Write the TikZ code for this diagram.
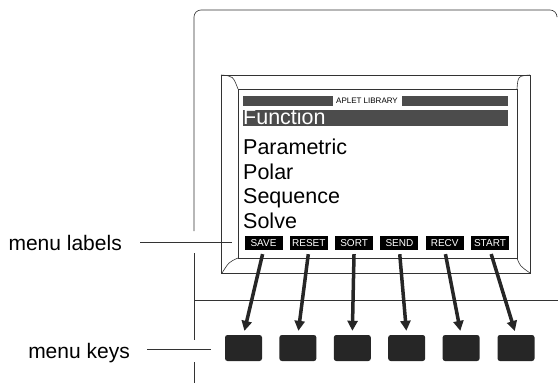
\documentclass[tikz,border=0pt]{standalone}
\usepackage{fontspec}
\setmainfont{Liberation Sans}
\usetikzlibrary{arrows.meta}

\tikzset{
  caseline/.style={line width=0.6pt,black!80},
  hatch/.style={fill=black!70},
  menuitem/.style={anchor=base west,inner sep=0pt,font=\fontsize{21.5}{24}\selectfont},
  lblbox/.style={fill=black,text=white,inner sep=0pt,minimum width=38pt,minimum height=14pt,font=\fontsize{10}{10}\selectfont},
  keybox/.style={fill=black!85,rounded corners=2.5pt,minimum width=37pt,minimum height=26pt,inner sep=0pt},
  menuarrow/.style={line width=3.5pt,black!85,-{Triangle[length=10pt,width=10pt]},shorten <=4pt,shorten >=4pt},
  leader/.style={line width=0.6pt,black!80},
  callout/.style={inner sep=0pt,font=\fontsize{21}{24}\selectfont}
}

\begin{document}
\begin{tikzpicture}[x=1pt,y=-1pt]
\useasboundingbox (0,0) rectangle (558,383);

% calculator case
\draw[caseline,rounded corners=7pt] (194,231) |- (557,10) -- (557,16);
\draw[caseline] (194,253) -- (194,340);
\draw[caseline] (194,362) -- (194,383);
\draw[caseline] (194,300) -- (558,300);

% screen bezel
\draw[caseline] (221,75) rectangle (530,273);
\draw[caseline] (238,89) rectangle (517,258);
\draw[caseline] (221,75) .. controls (233,76) .. (238,89);
\draw[caseline] (530,75) .. controls (518,76) .. (517,89);
\draw[caseline] (238,258) .. controls (229,262) .. (222,273);
\draw[caseline] (517,258) .. controls (520,266) .. (530,273);

% title bar
\fill[hatch] (243,96) rectangle (333,106);
\fill[hatch] (402,96) rectangle (508,106);
\node[inner sep=0pt,font=\fontsize{8}{8}\selectfont] (title) at (367,101) {APLET LIBRARY};

% aplet list
\fill[hatch] (243,110) rectangle (508,126);
\node[menuitem,text=white] (function) at (243,124.5) {Function};
\node[menuitem] (parametric) at (243,154.5) {Parametric};
\node[menuitem] (polar) at (243,179) {Polar};
\node[menuitem] (sequence) at (243,203.5) {Sequence};
\node[menuitem] (solve) at (243,228) {Solve};

% menu labels
\node[lblbox] (save) at (263.5,243) {SAVE};
\node[lblbox] (reset) at (308.8,243) {RESET};
\node[lblbox] (sort) at (354.1,243) {SORT};
\node[lblbox] (send) at (399.4,243) {SEND};
\node[lblbox] (recv) at (444.7,243) {RECV};
\node[lblbox] (start) at (490,243) {START};

% menu keys
\node[keybox] (ksave) at (243.5,348) {};
\node[keybox] (kreset) at (297.9,348) {};
\node[keybox] (ksort) at (352.3,348) {};
\node[keybox] (ksend) at (406.7,348) {};
\node[keybox] (krecv) at (461.1,348) {};
\node[keybox] (kstart) at (516,348) {};

\draw[menuarrow] (save.south) -- (ksave.north);
\draw[menuarrow] (reset.south) -- (kreset.north);
\draw[menuarrow] (sort.south) -- (ksort.north);
\draw[menuarrow] (send.south) -- (ksend.north);
\draw[menuarrow] (recv.south) -- (krecv.north);
\draw[menuarrow] (start.south) -- (kstart.north);

% callouts
\node[callout,anchor=base east] (mlabels) at (122,250) {menu labels};
\coordinate (mlend) at (232,242);
\draw[leader] ([xshift=18pt]mlabels.east |- mlend) -- (mlend);

\node[callout,anchor=base east] (mkeys) at (130,358) {menu keys};
\coordinate (mkend) at (211,349);
\draw[leader] ([xshift=17pt]mkeys.east |- mkend) -- (mkend);

\end{tikzpicture}
\end{document}
